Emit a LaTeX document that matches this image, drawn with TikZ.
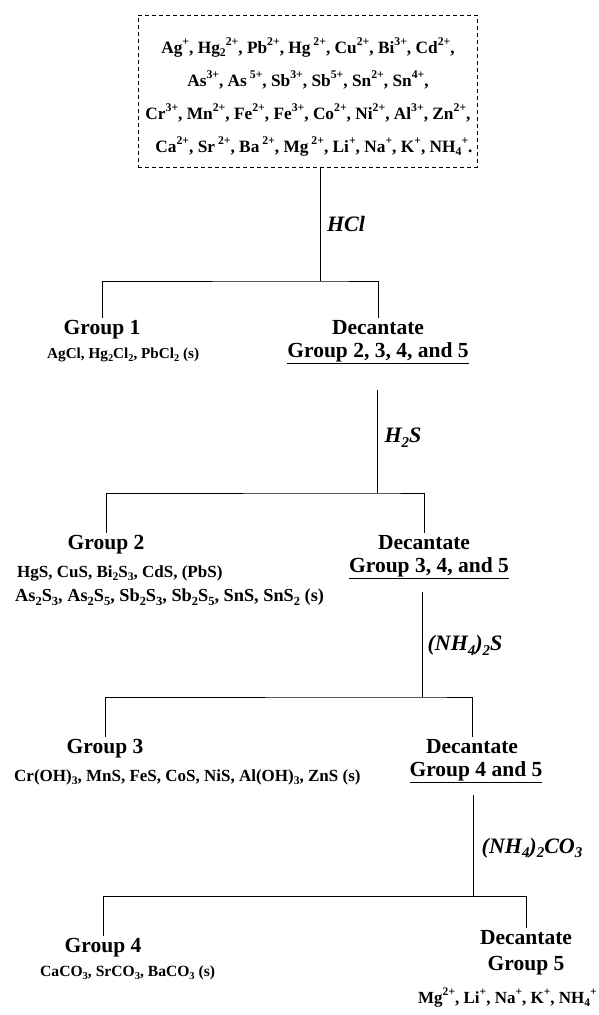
\documentclass[tikz,border=0pt]{standalone}
\usepackage{fontspec}
\setmainfont{Liberation Serif}
\makeatletter
\newlength\scrtmp
\newcommand{\sps}[1]{\setlength\scrtmp{\f@size pt}\raisebox{0.42em}{\fontsize{0.68\scrtmp}{0pt}\selectfont #1}}
\newcommand{\sbs}[1]{\setlength\scrtmp{\f@size pt}\raisebox{-0.22em}{\fontsize{0.68\scrtmp}{0pt}\selectfont #1}}
\makeatother
\tikzset{
  head/.style={font=\fontsize{21.5}{24}\selectfont\bfseries, anchor=base, inner sep=2pt},
  form/.style={anchor=base west, inner sep=0pt},
  fsmall/.style={font=\fontsize{15.2}{18}\selectfont\bfseries},
  fmid/.style={font=\fontsize{17}{20}\selectfont\bfseries},
  reag/.style={font=\fontsize{22}{24}\selectfont\bfseries\itshape, inner sep=0pt},
  link/.style={line width=0.9pt},
  ionbox/.style={draw, line width=0.8pt, dash pattern=on 4pt off 3pt, minimum width=339pt, minimum height=152pt, inner sep=0pt},
  iontext/.style={font=\fontsize{17.3}{33}\selectfont\bfseries, align=center, inner sep=0pt}
}
\begin{document}
\begin{tikzpicture}[x=1pt,y=-1pt]
\useasboundingbox (0,0) rectangle (598,1015);
% top box
\node[ionbox] (box) at (307.5,91) {};
\node[iontext] (ions) at (308,97) {%
Ag\sps{+}, Hg\sbs{2}\sps{2+}, Pb\sps{2+}, Hg\,\sps{2+}, Cu\sps{2+}, Bi\sps{3+}, Cd\sps{2+},\\
As\sps{3+}, As\,\sps{5+}, Sb\sps{3+}, Sb\sps{5+}, Sn\sps{2+}, Sn\sps{4+},\\
Cr\sps{3+}, Mn\sps{2+}, Fe\sps{2+}, Fe\sps{3+}, Co\sps{2+}, Ni\sps{2+}, Al\sps{3+}, Zn\sps{2+},\\
\hspace*{12pt}Ca\sps{2+}, Sr\,\sps{2+}, Ba\,\sps{2+}, Mg\,\sps{2+}, Li\sps{+}, Na\sps{+}, K\sps{+}, NH\sbs{4}\sps{+}.};
% junctions
\coordinate (j1) at (320,281);
\coordinate (j2) at (377,493);
\coordinate (j3) at (422,697);
\coordinate (j4) at (473,896);
% level 1
\node[reag] (r1) at (346,224) {HCl};
\node[head] (g1) at (102,334) {Group 1};
\node[head] (d1) at (378,334) {Decantate};
\node[head] (s1) at (378,357) {\underline{Group 2, 3, 4, and 5}};
\node[form, fsmall] (f1) at (47,358) {AgCl, Hg\sbs{2}Cl\sbs{2}, PbCl\sbs{2} (s)};
\draw[link] (box.south -| j1) -- (j1);
\draw[link] (g1.north) |- (j1) -| (d1.north);
% level 2
\node[reag] (r2) at (403,438) {H\sbs{2}S};
\node[head] (g2) at (106,549) {Group 2};
\node[head] (d2) at (424,549) {Decantate};
\node[head] (s2) at (429,572) {\underline{Group 3, 4, and 5}};
\node[form, fmid] (f2a) at (17,577) {HgS, CuS, Bi\sbs{2}S\sbs{3}, CdS, (PbS)};
\node[form, font=\fontsize{18.3}{20}\selectfont\bfseries] (f2b) at (15,601) {As\sbs{2}S\sbs{3}, As\sbs{2}S\sbs{5}, Sb\sbs{2}S\sbs{3}, Sb\sbs{2}S\sbs{5}, SnS, SnS\sbs{2} (s)};
\draw[link, shorten <=24pt] (s1.south -| j2) -- (j2);
\draw[link] (g2.north) |- (j2) -| (d2.north);
% level 3
\node[reag] (r3) at (465,645) {(NH\sbs{4})\sbs{2}S};
\node[head] (g3) at (105,753) {Group 3};
\node[head] (d3) at (472,753) {Decantate};
\node[head] (s3) at (476,776) {\underline{Group 4 and 5}};
\node[form, fmid] (f3) at (14,781) {Cr(OH)\sbs{3}, MnS, FeS, CoS, NiS, Al(OH)\sbs{3}, ZnS (s)};
\draw[link, shorten <=11pt] (s2.south -| j3) -- (j3);
\draw[link] (g3.north) |- (j3) -| (d3.north);
% level 4
\node[reag] (r4) at (532,848) {(NH\sbs{4})\sbs{2}CO\sbs{3}};
\node[head] (g4) at (103,952) {Group 4};
\node[head] (d4) at (526,944) {Decantate};
\node[head] (g5) at (526,970) {Group 5};
\node[form, font=\fontsize{15.6}{18}\selectfont\bfseries] (f4) at (40,976) {CaCO\sbs{3}, SrCO\sbs{3}, BaCO\sbs{3} (s)};
\node[fmid, anchor=base east, inner sep=0pt] (f5) at (597,1003) {Mg\sps{2+}, Li\sps{+}, Na\sps{+}, K\sps{+}, NH\sbs{4}\sps{+}};
\draw[link, shorten <=10pt] (s3.south -| j4) -- (j4);
\draw[link] (g4.north) |- (j4) -| (d4.north);
\end{tikzpicture}
\end{document}
